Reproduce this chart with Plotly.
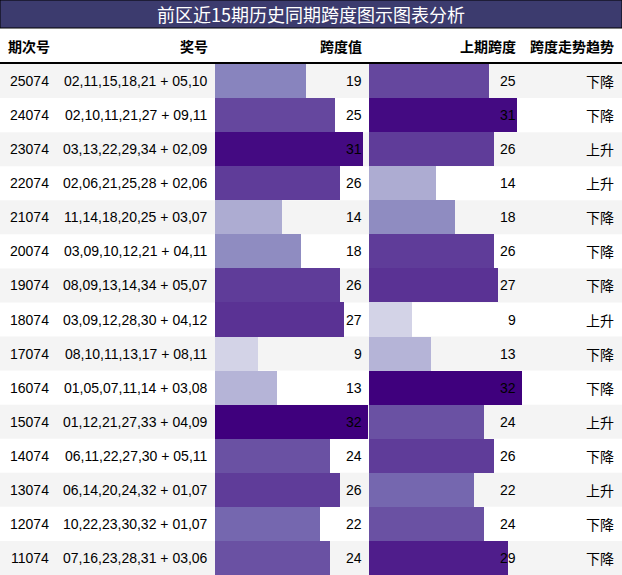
import plotly.graph_objects as go

# data
periods = ["25074", "24074", "23074", "22074", "21074", "20074", "19074", "18074",
           "17074", "16074", "15074", "14074", "13074", "12074", "11074"]
numbers = ["02,11,15,18,21 + 05,10", "02,10,11,21,27 + 09,11", "03,13,22,29,34 + 02,09",
           "02,06,21,25,28 + 02,06", "11,14,18,20,25 + 03,07", "03,09,10,12,21 + 04,11",
           "08,09,13,14,34 + 05,07", "03,09,12,28,30 + 04,12", "08,10,11,13,17 + 08,11",
           "01,05,07,11,14 + 03,08", "01,12,21,27,33 + 04,09", "06,11,22,27,30 + 05,11",
           "06,14,20,24,32 + 01,07", "10,22,23,30,32 + 01,07", "07,16,23,28,31 + 03,06"]
span = [19, 25, 31, 26, 14, 18, 26, 27, 9, 13, 32, 24, 26, 22, 24]
prev_span = [25, 31, 26, 14, 18, 26, 27, 9, 13, 32, 24, 26, 22, 24, 29]
trend = ["下降", "下降", "上升", "上升", "下降", "下降", "下降", "上升",
         "下降", "下降", "上升", "下降", "上升", "下降", "下降"]
headers = ["期次号", "奖号", "跨度值", "上期跨度", "跨度走势趋势"]
title = "前区近15期历史同期跨度图示图表分析"

W, H = 622, 575
n = len(periods)
rows = [i + 0.5 for i in range(n)]
FONT = "Liberation Sans, Arial, Noto Sans CJK SC"
CJK = "Noto Sans CJK SC, Liberation Sans"

fig = go.Figure()
fig.add_trace(go.Bar(x=span, y=rows, orientation="h", width=1, xaxis="x", yaxis="y",
                     marker=dict(color=span, colorscale="Purples", cmin=0, cmax=32, line_width=0),
                     hoverinfo="skip"))
fig.add_trace(go.Bar(x=prev_span, y=rows, orientation="h", width=1, xaxis="x2", yaxis="y",
                     marker=dict(color=prev_span, colorscale="Purples", cmin=0, cmax=32, line_width=0),
                     hoverinfo="skip"))

shapes = []
for i in range(n):
    if i % 2 == 0:
        shapes.append(dict(type="rect", xref="paper", yref="y", x0=0, x1=1, y0=i, y1=i + 1,
                           fillcolor="#f4f4f4", line_width=0, layer="below"))
# title bar + header rule
shapes.append(dict(type="rect", xref="paper", yref="paper", x0=0, x1=1,
                   y0=(H - 28) / H, y1=1, fillcolor="#3c3b6e",
                   line=dict(color="black", width=1)))
shapes.append(dict(type="line", xref="paper", yref="paper", x0=0, x1=1,
                   y0=(H - 63) / H, y1=(H - 63) / H, line=dict(color="black", width=2)))

ann = []
ann.append(dict(text=title, xref="paper", yref="paper", x=0.5, y=(H - 14) / H,
                xanchor="center", yanchor="middle", showarrow=False,
                font=dict(family=CJK, size=18, color="white")))
hy = (H - 46) / H
hx = [(7, "left"), (209, "right"), (363, "right"), (517, "right"), (615, "right")]
for (px, anc), h in zip(hx, headers):
    ann.append(dict(text="<b>" + h + "</b>", xref="paper", yref="paper", x=px / W, y=hy,
                    xanchor=anc, yanchor="middle", showarrow=False, borderpad=0,
                    font=dict(family=CJK, size=14, color="black")))
for i in range(n):
    y = rows[i]
    cells = [(30, "center", periods[i], FONT), (209, "right", numbers[i], FONT),
             (363, "right", str(span[i]), FONT), (517, "right", str(prev_span[i]), FONT),
             (615, "right", trend[i], CJK)]
    for px, anc, t, f in cells:
        ann.append(dict(text=t, xref="paper", yref="y", x=px / W, y=y,
                        xanchor=anc, yanchor="middle", showarrow=False, borderpad=0,
                        font=dict(family=f, size=14, color="black")))

fig.update_layout(
    width=W, height=H, margin=dict(l=0, r=0, t=0, b=0),
    paper_bgcolor="white", plot_bgcolor="rgba(0,0,0,0)",
    showlegend=False, bargap=0,
    xaxis=dict(domain=[215 / W, (215 + 32 * 4.79) / W], range=[0, 32], visible=False, fixedrange=True),
    xaxis2=dict(domain=[369 / W, (369 + 32 * 4.79) / W], range=[0, 32], visible=False, fixedrange=True),
    yaxis=dict(domain=[0, (H - 64) / H], range=[n, 0], visible=False, fixedrange=True),
    shapes=shapes, annotations=ann,
)

fig.write_html("out.html", config={"displayModeBar": False},
               post_script="document.body.style.margin='0';document.body.style.overflow='hidden';")
